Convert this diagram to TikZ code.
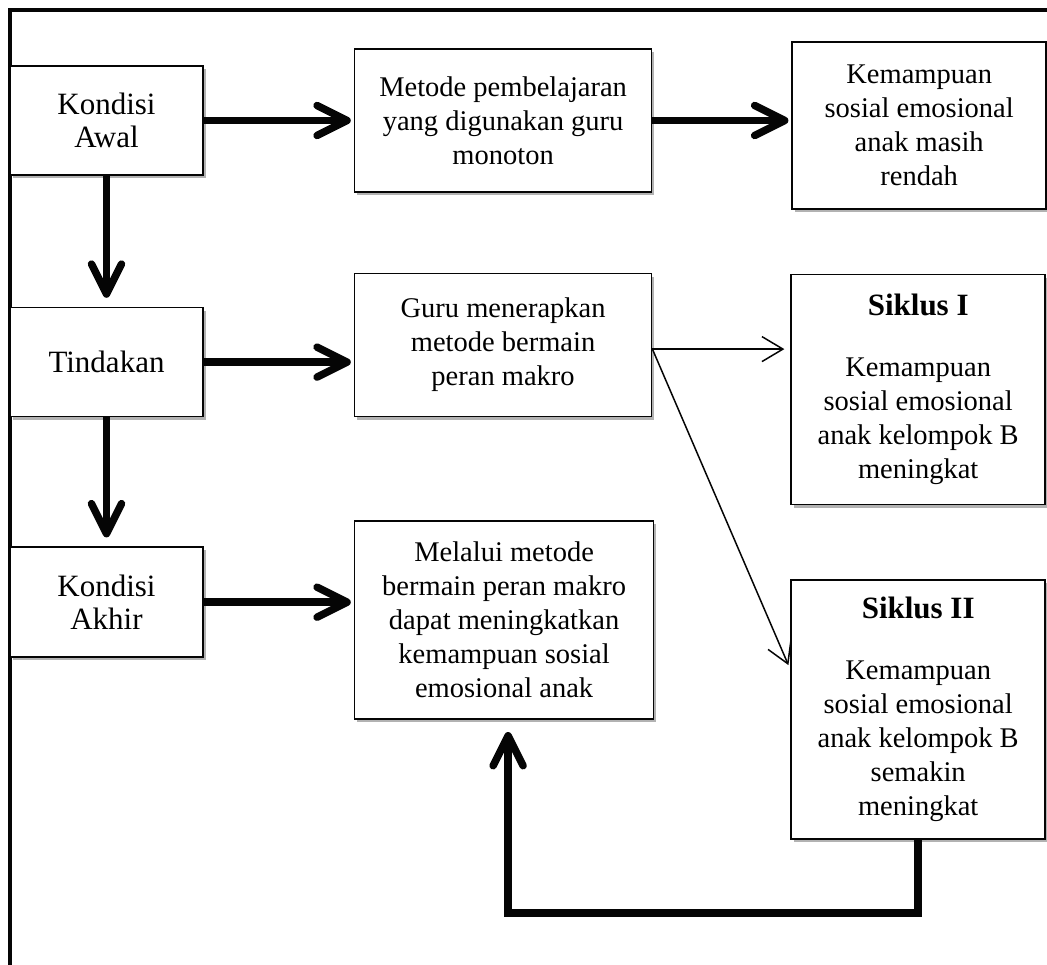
\documentclass[tikz,border=0pt]{standalone}
\usepackage{fontspec}
\setmainfont{Liberation Serif}
\usepackage{tikz}
\usetikzlibrary{arrows.meta, calc, positioning, shadows}
\usepackage{xcolor}
\definecolor{InkBlack}{rgb}{0.02, 0.02, 0.02}
\definecolor{ShadowGray}{rgb}{0.40, 0.40, 0.40}
\newcommand{\judul}[1]{{\fontsize{31}{34}\selectfont\bfseries #1}}
\tikzset{%
  frame_line/.style={%
    draw=InkBlack,%
    line width=4.5pt,%
    line join=miter%
  },
  box/.style={%
    rectangle,%
    draw=InkBlack,%
    line width=1.6pt,%
    fill=white,%
    align=center,%
    inner sep=4pt,%
    drop shadow={shadow xshift=2.5pt, shadow yshift=-3pt, fill=ShadowGray, opacity=0.5},%
  },
  box_side/.style={%
    box,%
    minimum width=193pt,%
    minimum height=109pt,%
    font={\fontsize{31}{33}\selectfont}%
  },
  box_mid/.style={%
    box,%
    minimum width=297pt,%
    minimum height=143pt,%
    font={\fontsize{28.5}{34}\selectfont}%
  },
  box_right/.style={%
    box,%
    minimum width=254pt,%
    font={\fontsize{28.5}{34}\selectfont}%
  },
  thick_arrow/.style={%
    draw=InkBlack,%
    line width=7.5pt,%
    line join=miter,%
    -{Straight Barb[length=30pt, width=30pt, round]}%
  },
  thin_arrow/.style={%
    draw=InkBlack,%
    line width=1.5pt,%
    -{Straight Barb[length=21pt, width=25pt]}%
  },
}
\begin{document}
\begin{tikzpicture}[x=1pt, y=1pt]
  \useasboundingbox (0,0) rectangle (1047,-965);
  \draw[frame_line] (1047,-10) -- (10,-10) -- (10,-965);

  \node[box_side] (awal) at (106.5,-120.5) {Kondisi\\Awal};
  \node[box_mid, right = 150pt of awal] (metode) {Metode pembelajaran\\yang digunakan guru\\monoton};
  \node[box_right, minimum height=167pt, right = 139pt of metode, yshift=-5pt] (rendah) {Kemampuan\\sosial emosional\\anak masih\\rendah};
  \node[box_side, below = 131pt of awal] (tindakan) {Tindakan};
  \node[box_mid, right = 150pt of tindakan, yshift=17pt] (guru) {Guru menerapkan\\metode bermain\\peran makro};
  \node[box_right, minimum height=230pt, right = 138pt of guru, yshift=-44.5pt] (siklus1) {\judul{Siklus I}\\[27pt]Kemampuan\\sosial emosional\\anak kelompok B\\meningkat};
  \node[box_side, minimum height=110pt, below = 129pt of tindakan] (akhir) {Kondisi\\Akhir};
  \node[box_mid, minimum width=299pt, minimum height=198pt, right = 150pt of akhir, yshift=-18pt] (melalui) {Melalui metode\\bermain peran makro\\dapat meningkatkan\\kemampuan sosial\\emosional anak};
  \node[box_right, minimum height=259pt, below = 74pt of siklus1] (siklus2) {\judul{Siklus II}\\[27pt]Kemampuan\\sosial emosional\\anak kelompok B\\semakin\\meningkat};

  \coordinate (guru_out) at ([yshift=-4pt]guru.east);

  \draw[thick_arrow, shorten >=3pt] (awal.east) -- (awal.east -| metode.west);
  \draw[thick_arrow, shorten >=3pt] (metode.east) -- (metode.east -| rendah.west);
  \draw[thick_arrow, shorten >=9pt] (awal.south) -- (tindakan.north);
  \draw[thick_arrow, shorten >=3pt] (tindakan.east) -- (tindakan.east -| guru.west);
  \draw[thick_arrow, shorten >=9pt] (tindakan.south) -- (akhir.north);
  \draw[thick_arrow, shorten >=3pt] (akhir.east) -- (akhir.east -| melalui.west);
  \draw[thin_arrow, shorten >=6pt] (guru_out) -- (guru_out -| siklus1.west);
  \draw[thin_arrow, shorten >=5pt] (guru_out) -- ([yshift=40pt]siklus2.west);
  \draw[thick_arrow, shorten >=12pt] (siklus2.south) -- ++(0,-73) -| ([xshift=4pt]melalui.south);

\end{tikzpicture}
\end{document}
